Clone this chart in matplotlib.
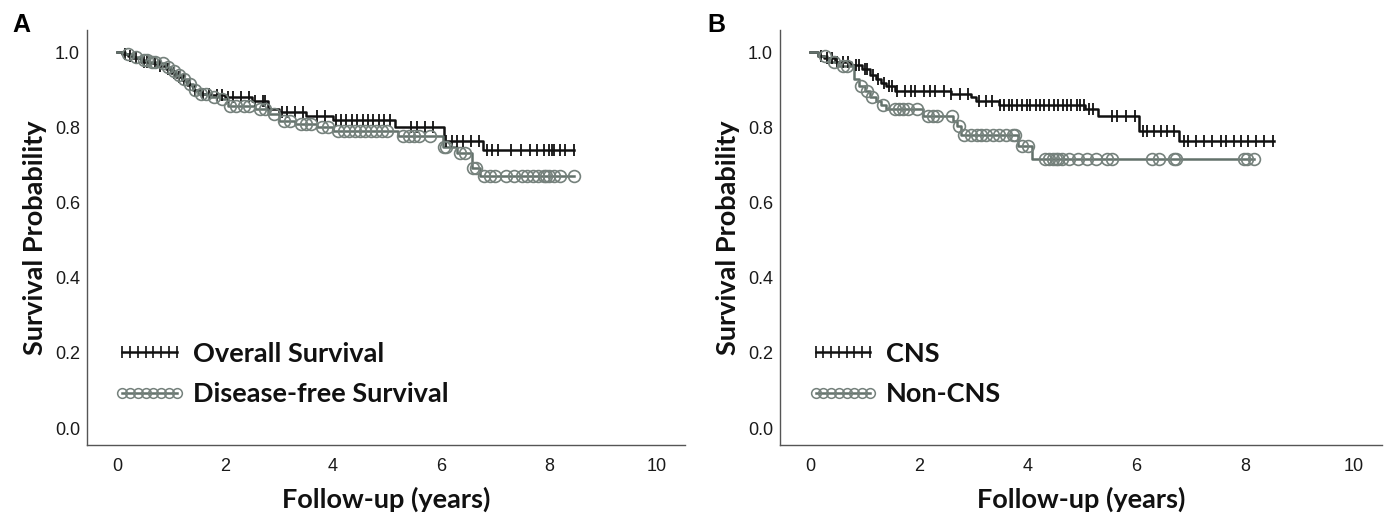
import numpy as np
import matplotlib
matplotlib.use("Agg")
import matplotlib.pyplot as plt
from matplotlib.lines import Line2D

# ---------------- data ----------------
# Panel A: Overall survival (event times, survival after event)
os_times = [0.1, 0.2, 0.3, 0.45, 0.6, 0.75, 0.9, 1.0, 1.1, 1.2, 1.3, 1.4, 1.55, 1.75,
            2.0, 2.5, 2.8, 3.0, 3.5, 4.0, 5.15, 6.05, 6.77]
os_surv = [0.995, 0.99, 0.985, 0.975, 0.97, 0.963, 0.955, 0.945, 0.935, 0.925, 0.912,
           0.90, 0.89, 0.885, 0.88, 0.87, 0.85, 0.84, 0.83, 0.821, 0.80, 0.763, 0.741]
os_end = 8.47
os_cens = [0.15, 0.25, 0.35, 0.5, 0.55, 0.7, 0.8, 0.95, 1.05, 1.15, 1.25, 1.35, 1.45,
           1.6, 1.7, 1.85, 1.95, 2.05, 2.15, 2.3, 2.45, 2.55, 2.7, 2.75, 3.05, 3.15,
           3.3, 3.45, 3.7, 3.85, 4.05, 4.15, 4.25, 4.35, 4.45, 4.55, 4.65, 4.75, 4.85,
           4.95, 5.05, 5.45, 5.55, 5.7, 5.85, 6.1, 6.2, 6.3, 6.4, 6.55, 6.7, 6.85, 6.95,
           7.05, 7.3, 7.48, 7.65, 7.77, 7.9, 8.0, 8.05, 8.1, 8.2, 8.3, 8.47]

# Panel A: Disease-free survival
dfs_times = [0.15, 0.3, 0.45, 0.6, 0.75, 0.9, 1.0, 1.1, 1.2, 1.3, 1.4, 1.5, 1.7, 1.9,
             2.05, 2.55, 2.8, 3.0, 3.3, 3.7, 4.0, 5.2, 6.03, 6.3, 6.57, 6.72]
dfs_surv = [0.995, 0.988, 0.98, 0.975, 0.97, 0.96, 0.95, 0.94, 0.928, 0.915, 0.90,
            0.89, 0.88, 0.875, 0.857, 0.848, 0.835, 0.818, 0.808, 0.80, 0.79, 0.777,
            0.747, 0.733, 0.693, 0.67]
dfs_end = 8.47
dfs_cens = [0.2, 0.35, 0.5, 0.55, 0.65, 0.7, 0.85, 0.95, 1.05, 1.15, 1.25, 1.35,
            1.45, 1.55, 1.65, 1.8, 1.95, 2.1, 2.2, 2.35, 2.45, 2.65, 2.75, 2.9, 3.1,
            3.2, 3.4, 3.5, 3.6, 3.8, 3.9, 4.1, 4.2, 4.3, 4.4, 4.5, 4.6, 4.7, 4.8, 4.9,
            5.0, 5.3, 5.4, 5.5, 5.6, 5.8, 6.05, 6.1, 6.35, 6.45, 6.6, 6.65, 6.8, 6.9,
            7.0, 7.2, 7.35, 7.5, 7.6, 7.7, 7.8, 7.9, 7.95, 8.0, 8.1, 8.2, 8.47]

# Panel B: CNS
cns_times = [0.15, 0.25, 0.45, 0.75, 0.95, 1.1, 1.2, 1.3, 1.4, 1.55, 2.58, 2.95,
             3.05, 3.48, 5.06, 5.3, 6.04, 6.79]
cns_surv = [0.99, 0.985, 0.975, 0.965, 0.955, 0.94, 0.93, 0.918, 0.91, 0.897, 0.888,
            0.88, 0.87, 0.859, 0.848, 0.83, 0.79, 0.764]
cns_end = 8.53
cns_cens = [0.2, 0.3, 0.4, 0.5, 0.6, 0.7, 0.85, 0.9, 1.0, 1.05, 1.15, 1.25, 1.35,
            1.45, 1.5, 1.6, 1.75, 1.85, 1.92, 2.09, 2.2, 2.29, 2.46, 2.58, 2.75, 2.91,
            3.1, 3.24, 3.35, 3.49, 3.57, 3.65, 3.72, 3.8, 3.9, 3.98, 4.05, 4.15, 4.22,
            4.3, 4.4, 4.48, 4.55, 4.65, 4.72, 4.8, 4.9, 4.97, 5.03, 5.12, 5.2, 5.55,
            5.65, 5.8, 5.97, 6.13, 6.2, 6.32, 6.45, 6.57, 6.7, 6.87, 6.95, 7.1, 7.25,
            7.4, 7.55, 7.65, 7.8, 7.92, 8.05, 8.2, 8.35, 8.51]

# Panel B: Non-CNS
ncns_times = [0.15, 0.3, 0.5, 0.8, 0.9, 1.0, 1.1, 1.2, 1.3, 1.4, 2.08, 2.62, 2.7,
              2.78, 3.82, 4.08]
ncns_surv = [0.99, 0.975, 0.964, 0.928, 0.91, 0.897, 0.88, 0.87, 0.86, 0.848, 0.83,
             0.817, 0.803, 0.781, 0.75, 0.715]
ncns_end = 8.17
ncns_cens = [0.27, 0.43, 0.6, 0.68, 0.93, 1.05, 1.13, 1.34, 1.55, 1.63, 1.71, 1.8,
             1.96, 2.17, 2.25, 2.33, 2.6, 2.74, 2.82, 2.95, 3.07, 3.15, 3.24, 3.36,
             3.48, 3.61, 3.73, 3.77, 3.89, 4.0, 4.31, 4.39, 4.47, 4.52, 4.56, 4.64,
             4.76, 4.93, 5.09, 5.26, 5.46, 5.55, 6.29, 6.41, 6.7, 6.73, 7.98, 8.03,
             8.17]

xticks = [0, 2, 4, 6, 8, 10]
yticks = [0.0, 0.2, 0.4, 0.6, 0.8, 1.0]

BLACK = "#111111"
GRAY = "#63716b"
GRAY_C = "#75817c"

LABEL_FONT = "Lato"
TICK_FONT = "Liberation Sans"


def surv_at(times, surv, t):
    times = np.asarray(times)
    surv = np.asarray(surv)
    idx = np.searchsorted(times, t, side="right") - 1
    return np.where(idx < 0, 1.0, surv[np.clip(idx, 0, None)])


def km(ax, times, surv, end, cens, color, kind, mcolor):
    xs = np.concatenate([[0.0], times, [end]])
    ys = np.concatenate([[1.0], surv, [surv[-1]]])
    ax.step(xs, ys, where="post", color=color, lw=1.8, zorder=3)
    cy = surv_at(times, surv, np.asarray(cens))
    if kind == "plus":
        ax.plot(cens, cy, ls="none", marker="|", ms=9, mew=1.3,
                color=color, zorder=4)
    else:
        ax.plot(cens, cy, ls="none", marker="o", ms=8.5, mew=1.2,
                mfc="none", mec=mcolor, zorder=4)


fig = plt.figure(figsize=(13.89, 5.18), dpi=100)
axA = fig.add_axes([0.0626, 0.1409, 0.4306, 0.8011])
axB = fig.add_axes([0.5616, 0.1409, 0.4334, 0.8011])

panels = [
    (axA, "A", (os_times, os_surv, os_end, os_cens), (dfs_times, dfs_surv, dfs_end, dfs_cens),
     ["Overall Survival", "Disease-free Survival"], 0.009),
    (axB, "B", (cns_times, cns_surv, cns_end, cns_cens), (ncns_times, ncns_surv, ncns_end, ncns_cens),
     ["CNS", "Non-CNS"], 0.5095),
]

for ax, letter, s1, s2, names, lx in panels:
    km(ax, *s1, BLACK, "plus", BLACK)
    km(ax, *s2, GRAY, "circ", GRAY_C)
    ax.set_xlim(-0.556, 10.52)
    ax.set_ylim(-0.045, 1.059)
    ax.set_xticks(xticks)
    ax.set_xticklabels([str(v) for v in xticks])
    ax.set_yticks(yticks)
    ax.set_yticklabels([f"{v:.1f}" for v in yticks])
    for sp in ["top", "right"]:
        ax.spines[sp].set_visible(False)
    for sp in ["left", "bottom"]:
        ax.spines[sp].set_color("#555555")
        ax.spines[sp].set_linewidth(1.0)
    ax.tick_params(axis="both", length=0, labelsize=13, labelcolor="#1a1a1a")
    ax.tick_params(axis="x", pad=9)
    ax.tick_params(axis="y", pad=5)
    for lab in ax.get_xticklabels() + ax.get_yticklabels():
        lab.set_fontfamily(TICK_FONT)
    ax.set_xlabel("Follow-up (years)", fontsize=19.5, fontweight="bold",
                  family=LABEL_FONT, labelpad=9, color="#111111")
    ax.set_ylabel("Survival Probability", fontsize=19.5, fontweight="bold",
                  family=LABEL_FONT, labelpad=6, color="#111111")
    fig.text(lx, 0.952, letter, fontsize=18, fontweight="bold",
             family="Liberation Sans", ha="left", va="center")
    h1 = Line2D([], [], color=BLACK, lw=1.8, marker="|", ms=9, mew=1.2)
    h2 = Line2D([], [], color=GRAY, lw=1.8, marker="o", ms=7, mew=1.1,
                mfc="none", mec=GRAY_C)
    leg = ax.legend([h1, h2], names, loc="lower left",
                    bbox_to_anchor=(0.005, 0.035), frameon=False, numpoints=8,
                    handlelength=2.6, handletextpad=0.3, labelspacing=0.6,
                    prop={"family": LABEL_FONT, "weight": "bold", "size": 19.5})
    for t in leg.get_texts():
        t.set_color("#111111")

fig.savefig("out.png", dpi=100)
